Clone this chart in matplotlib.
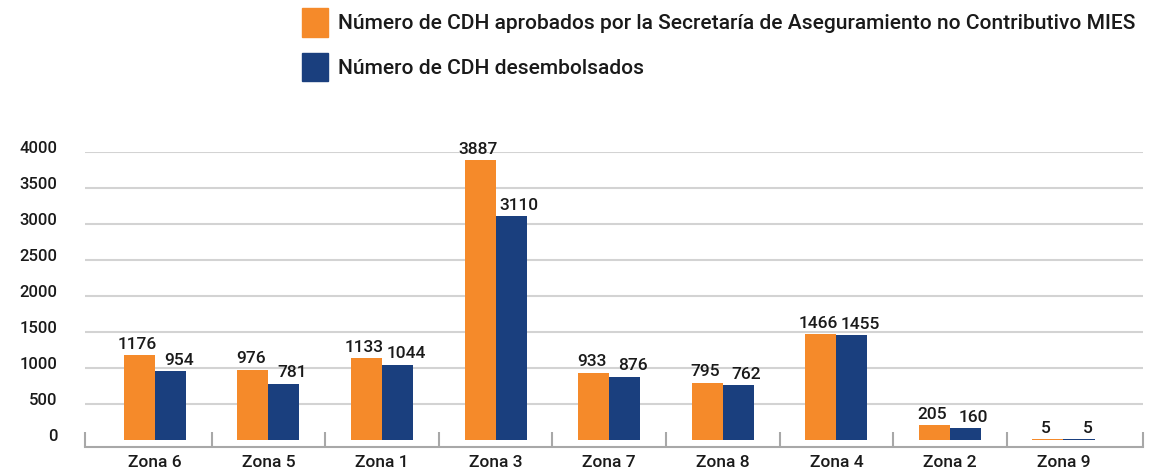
import numpy as np
import matplotlib.pyplot as plt
from matplotlib.patches import Patch
from matplotlib.transforms import ScaledTranslation

plt.rcParams['font.family'] = ['Roboto', 'DejaVu Sans']

zonas = ['Zona 6', 'Zona 5', 'Zona 1', 'Zona 3', 'Zona 7', 'Zona 8', 'Zona 4', 'Zona 2', 'Zona 9']
aprobados = [1176, 976, 1133, 3887, 933, 795, 1466, 205, 5]
desembolsados = [954, 781, 1044, 3110, 876, 762, 1455, 160, 5]
y_ticks = [0, 500, 1000, 1500, 2000, 2500, 3000, 3500, 4000]

label_aprob = 'Número de CDH aprobados por la Secretaría de Aseguramiento no Contributivo MIES'
label_desem = 'Número de CDH desembolsados'

ORANGE = '#f58a2a'
BLUE = '#1a3f7e'
GRID = '#d3d3d3'
AXIS = '#a8a8a8'
TXT = '#1a1a1a'

fig = plt.figure(figsize=(11.53, 4.75), dpi=100)
ax = fig.add_axes([85 / 1153, 28 / 475, 1058 / 1153, 295 / 475])

x = np.arange(len(zonas))
w = 0.273
b1 = ax.bar(x - w / 2, aprobados, w, color=ORANGE, zorder=3)
b2 = ax.bar(x + w / 2, desembolsados, w, color=BLUE, zorder=3)

# value labels: blue ones sit a little to the right, like the original
for bars, vals, dx in ((b1, aprobados, -1.5), (b2, desembolsados, 6)):
    for r, v in zip(bars, vals):
        ax.annotate(str(v), (r.get_x() + r.get_width() / 2, v), xytext=(dx, 2.5),
                    textcoords='offset points', ha='center', va='bottom',
                    fontsize=12.5, fontweight='medium', color=TXT, clip_on=False)

xlim = (-0.615, 8.70)
ax.set_xlim(*xlim)
ax.set_ylim(-100, 4000)

ax.set_yticks(y_ticks)
ax.set_yticklabels([str(t) for t in y_ticks], fontsize=12, fontweight='medium', color=TXT)
ax.tick_params(axis='y', length=0, pad=20)
for t in y_ticks[1:]:
    ax.axhline(t, color=GRID, lw=1.5, zorder=1)
off = ScaledTranslation(0, 5 / 100, fig.dpi_scale_trans)
for lbl in ax.get_yticklabels():
    lbl.set_transform(lbl.get_transform() + off)

ax.set_xticks(x)
ax.set_xticklabels(zonas, fontsize=12.5, fontweight='medium', color=TXT)
ax.tick_params(axis='x', which='major', length=0, pad=6)
ax.set_xticks(list(np.arange(0.5, 8.5, 1.0)) + [xlim[0], xlim[1]], minor=True)
ax.tick_params(axis='x', which='minor', direction='in', length=11, width=1.5, color=AXIS)

for s in ('top', 'right', 'left'):
    ax.spines[s].set_visible(False)
ax.spines['bottom'].set_color(AXIS)
ax.spines['bottom'].set_linewidth(1.5)

handles = [Patch(color=ORANGE), Patch(color=BLUE)]
fig.legend(handles, [label_aprob, label_desem], loc='upper left',
           bbox_to_anchor=(294 / 1153, 1.0), frameon=False,
           prop={'size': 15.1, 'weight': 'medium'}, handlelength=1.2,
           handleheight=1.72, handletextpad=0.5, labelspacing=0.76,
           labelcolor=TXT, borderaxespad=0)

fig.savefig('out.png', dpi=100)
